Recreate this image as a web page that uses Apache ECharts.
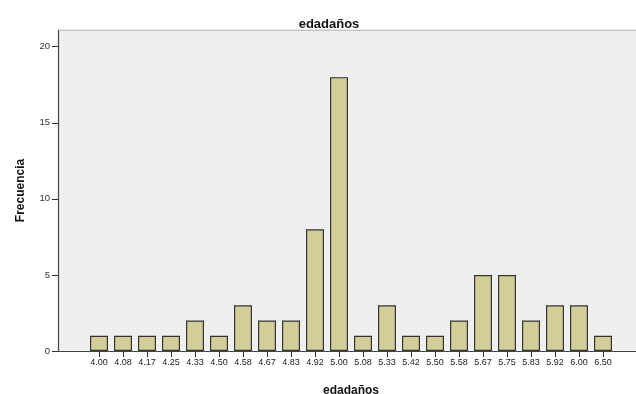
<!DOCTYPE html>
<html><head><meta charset="utf-8">
<script src="https://cdn.jsdelivr.net/npm/echarts@6/dist/echarts.min.js"></script>
<style>html,body{margin:0;padding:0;background:#fff}#c{width:636px;height:394px}</style>
</head><body><div id="c"></div>
<script>
const categories = ["4.00","4.08","4.17","4.25","4.33","4.50","4.58","4.67","4.83","4.92","5.00","5.08","5.33","5.42","5.50","5.58","5.67","5.75","5.83","5.92","6.00","6.50"];
const frequencies = [1,1,1,1,2,1,3,2,2,8,18,1,3,1,1,2,5,5,2,3,3,1];
const yTicks = [0,5,10,15,20];
const titleText = "edadaños";
const yName = "Frecuencia";
const xName = "edadaños";

const yMax = 21.1;
const chart = echarts.init(document.getElementById('c'), null, {renderer:'canvas'});
chart.setOption({
  animation:false,
  backgroundColor:'#ffffff',
  title:{text:titleText,left:324,top:13,textAlign:'center',textStyle:{fontFamily:'Liberation Sans, Arial',fontWeight:'bold',fontSize:13,color:'#111'}},
  grid:[
    {left:58,right:0,top:30,bottom:43,show:true,backgroundColor:'#efefef',borderWidth:0,containLabel:false,outerBoundsMode:'none'},
    {left:87,right:21,top:30,bottom:43,containLabel:false,outerBoundsMode:'none'}
  ],
  xAxis:[
    {gridIndex:0,type:'value',min:0,max:1,show:true,axisLine:{show:true,lineStyle:{color:'#444',width:1.2}},axisTick:{show:false},axisLabel:{show:false},splitLine:{show:false}},
    {gridIndex:1,type:'category',data:categories,boundaryGap:true,axisLine:{show:false},
     axisTick:{show:true,alignWithLabel:true,length:6,lineStyle:{color:'#333'}},
     axisLabel:{interval:0,fontSize:9,fontFamily:'Liberation Sans, Arial',color:'#222',margin:7},
     name:xName,nameLocation:'middle',nameGap:34,nameTextStyle:{fontFamily:'Liberation Sans, Arial',fontWeight:'bold',fontSize:12,color:'#111'}}
  ],
  yAxis:[
    {gridIndex:0,type:'value',min:0,max:yMax,interval:5,
     axisLine:{show:true,lineStyle:{color:'#444',width:1.2}},
     axisTick:{show:true,length:6,lineStyle:{color:'#333'},customValues:yTicks},
     axisLabel:{fontSize:9.5,fontFamily:'Liberation Sans, Arial',color:'#333',margin:8,customValues:yTicks},
     splitLine:{show:false},
     name:yName,nameLocation:'middle',nameGap:31,nameRotate:90,
     nameTextStyle:{fontFamily:'Liberation Sans, Arial',fontWeight:'bold',fontSize:12,color:'#111'}},
    {gridIndex:0,type:'value',position:'right',min:0,max:1,axisLine:{show:false},axisTick:{show:false},axisLabel:{show:false},splitLine:{show:false}},
    {gridIndex:1,type:'value',min:0,max:yMax,show:false,splitLine:{show:false}}
  ],
  series:[
    {type:'line',xAxisIndex:0,yAxisIndex:1,data:[[0,1],[1,1]],symbol:'none',lineStyle:{color:'#999',width:1},silent:true},
    {type:'bar',xAxisIndex:1,yAxisIndex:2,data:frequencies,barWidth:18,
     itemStyle:{color:'#d3ce97',borderColor:'#333',borderWidth:1.2}}
  ]
});
</script></body></html>
